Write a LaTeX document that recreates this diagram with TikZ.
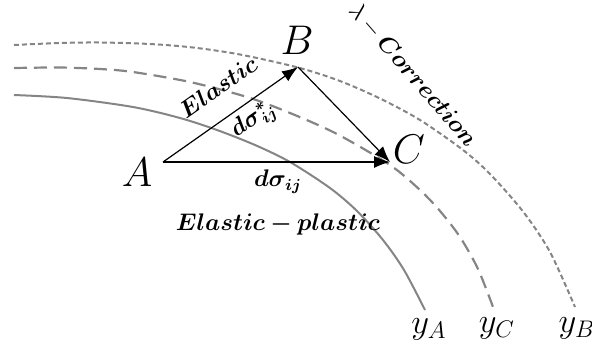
\documentclass[tikz,border=0pt]{standalone}
\usepackage{amsmath,amssymb,bm}
\usepackage{tikz}
\usetikzlibrary{arrows.meta,positioning,calc}
\definecolor{yieldGray}{HTML}{858585}

\tikzset{
  yieldsolid/.style={draw=yieldGray,line width=1pt},
  yieldlong/.style={draw=yieldGray,line width=1.1pt,dash pattern=on 6.5pt off 3.5pt},
  yieldshort/.style={draw=yieldGray,line width=1pt,dash pattern=on 2.5pt off 1.5pt},
  vecline/.style={draw=black,line width=0.6pt,-{Latex[length=8pt,width=6pt]}},
  ptlabel/.style={inner sep=0pt,font=\fontsize{20}{24}\selectfont},
  ylabel/.style={inner sep=0pt,font=\fontsize{17}{20}\selectfont},
  txtlabel/.style={inner sep=0pt,font=\fontsize{11.5}{13}\selectfont}
}

\begin{document}
\begin{tikzpicture}[x=0.5pt,y=-0.5pt]
\useasboundingbox (0,0) rectangle (592,350);

% yield surfaces
\draw[yieldsolid] plot[smooth,tension=0.5] coordinates
  {(14,95) (67,98) (133,107) (180,118) (217,130) (255,145) (290,162)
   (330,188) (357,211) (383,240) (404,270) (425,310)};
\draw[yieldlong] plot[smooth,tension=0.5] coordinates
  {(14,68) (60,67.5) (100,69) (133,72) (190,82) (247,97) (290,113) (337,134)
   (390,165) (420,190) (440,211) (460,237) (478,269) (493,307)};
\draw[yieldshort] plot[smooth,tension=0.5] coordinates
  {(14,45) (60,43) (100,42.5) (150,44) (193,47.5) (240,54.5) (298,67.5) (340,81)
   (380,98.5) (420,120) (463,150) (490,174) (523,211.5) (550,252) (575,307)};
\coordinate (endA) at (425,310);
\coordinate (endC) at (493,307);
\coordinate (endB) at (575,307);
\node[ylabel,below=4pt of endA,xshift=2pt] (yA) {$y_A$};
\node[ylabel,below=5pt of endC,xshift=2pt] (yC) {$y_C$};
\node[ylabel,below=5pt of endB,xshift=1pt] (yB) {$y_B$};

% stress increments
\coordinate (A) at (163,162);
\coordinate (B) at (298,67);
\coordinate (C) at (390,162);
\draw[vecline] (A) -- (B);
\draw[vecline] (B) -- (C);
\draw[vecline] (A) -- (C);
\node[ptlabel] (labA) at (137,172) {$A$};
\node[ptlabel] (labB) at (297,40) {$B$};
\node[ptlabel] (labC) at (409,149) {$C$};

\node[txtlabel,rotate=35] (elastic) at (218,87) {$\boldsymbol{Elastic}$};
\node[txtlabel,rotate=35] (dsigstar) at (254,121) {$\boldsymbol{d\sigma^{*}_{ij}}$};
\node[txtlabel] (dsig) at (278,182) {$\boldsymbol{d\sigma_{ij}}$};
\node[txtlabel] (elpl) at (278,224) {$\boldsymbol{Elastic-plastic}$};
\node[txtlabel,rotate=-49] (corr) at (413,75) {$\lambda-\boldsymbol{Correction}$};
\end{tikzpicture}
\end{document}
